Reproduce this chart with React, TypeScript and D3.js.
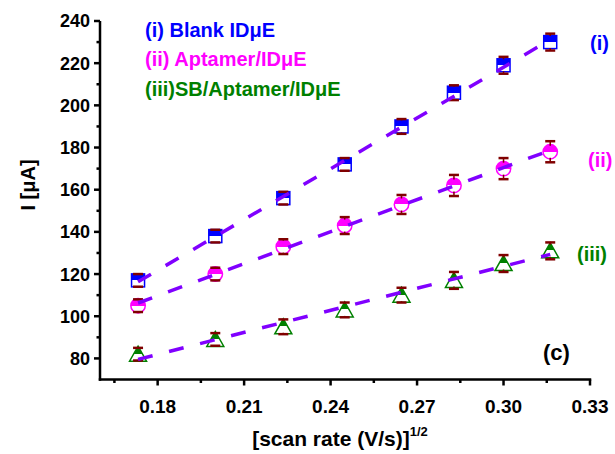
import React from "react";
import * as d3 from "d3";

const xVals = [0.1732, 0.2, 0.2236, 0.2449, 0.2646, 0.2828, 0.3, 0.3162];
const blank = [117, 138, 156, 172, 190, 206, 219, 230];
const blankErr = [3, 3, 3, 3, 3.5, 3.5, 4, 4];
const aptamer = [105, 120, 133, 143, 153, 162, 170, 178];
const aptamerErr = [3, 3, 3.5, 4, 4.5, 5, 5, 5];
const sb = [82, 89, 95, 103, 110, 117, 125, 131];
const sbErr = [3, 3, 3.5, 3.5, 3.5, 4, 4, 4];
const xTicks = [0.18, 0.21, 0.24, 0.27, 0.3, 0.33];
const yTicks = [80, 100, 120, 140, 160, 180, 200, 220, 240];

const W = 615, H = 454;
const FONT = "Liberation Sans, Arial, sans-serif";

function fit(xs: number[], ys: number[]) {
  const mx = d3.mean(xs)!, my = d3.mean(ys)!;
  let num = 0, den = 0;
  xs.forEach((x, i) => { num += (x - mx) * (ys[i] - my); den += (x - mx) ** 2; });
  const b = num / den;
  return { a: my - b * mx, b };
}

export default function App() {
  const x = d3.scaleLinear().domain([0.16, 0.33]).range([100, 590]);
  const y = d3.scaleLinear().domain([70, 240]).range([379.5, 21]);
  const x0 = 100, yB = 379.5;
  const series = [
    { vals: blank, err: blankErr, color: "#0000ff", shape: "square", id: "s" },
    { vals: aptamer, err: aptamerErr, color: "#ff00ff", shape: "circle", id: "c" },
    { vals: sb, err: sbErr, color: "#008000", shape: "triangle", id: "t" },
  ];
  const minorX = d3.range(0.165, 0.33, 0.03);
  const minorY = d3.range(90, 240, 20);

  return (
    <svg width={W} height={H} style={{ position: "absolute", left: 0, top: 0, background: "#fff" }} fontFamily={FONT}>
      <defs>
        {series.map((s) => (
          <linearGradient key={s.id} id={"g" + s.id} x1="0" y1="0" x2="0" y2="1">
            <stop offset="0.5" stopColor={s.color} />
            <stop offset="0.5" stopColor="#fff" />
          </linearGradient>
        ))}
      </defs>
      {/* axes */}
      <line x1={x0} x2={x0} y1={y(240)} y2={yB + 1.25} stroke="#000" strokeWidth={2.5} />
      <line x1={x0 - 1.25} x2={x(0.33) + 1.25} y1={yB} y2={yB} stroke="#000" strokeWidth={2.5} />
      {yTicks.map((t) => (
        <g key={t}>
          <line x1={x0 - 6} x2={x0} y1={y(t)} y2={y(t)} stroke="#000" strokeWidth={2.5} />
          <text x={x0 - 10} y={y(t)} dy="0.36em" textAnchor="end" fontSize={18} fontWeight="bold">{t}</text>
        </g>
      ))}
      {minorY.map((t) => (
        <line key={t} x1={x0 - 3.5} x2={x0} y1={y(t)} y2={y(t)} stroke="#000" strokeWidth={2.5} />
      ))}
      {xTicks.map((t) => (
        <g key={t}>
          <line x1={x(t)} x2={x(t)} y1={yB} y2={yB + 6} stroke="#000" strokeWidth={2.5} />
          <text x={x(t)} y={413} textAnchor="middle" fontSize={19} fontWeight="bold">{t.toFixed(2)}</text>
        </g>
      ))}
      {minorX.map((t) => (
        <line key={t} x1={x(t)} x2={x(t)} y1={yB} y2={yB + 3.5} stroke="#000" strokeWidth={2.5} />
      ))}
      {/* markers */}
      {series.map((s) => (
        <g key={s.id}>
          {s.vals.map((v, i) => {
            const cx = x(xVals[i]), cy = y(v);
            if (s.shape === "square")
              return <rect key={i} x={cx - 6.5} y={cy - 6.5} width={13} height={13} fill={`url(#g${s.id})`} stroke={s.color} strokeWidth={1.5} />;
            if (s.shape === "circle")
              return <circle key={i} cx={cx} cy={cy} r={7.2} fill={`url(#g${s.id})`} stroke={s.color} strokeWidth={1.5} />;
            return <path key={i} d={`M${cx},${cy - 8}L${cx + 8.5},${cy + 7}L${cx - 8.5},${cy + 7}Z`} fill={`url(#g${s.id})`} stroke={s.color} strokeWidth={1.5} />;
          })}
          {s.vals.map((v, i) => {
            const cx = x(xVals[i]);
            const yt = y(v + s.err[i]), yb = y(v - s.err[i]);
            return (
              <g key={"e" + i} stroke="#800000" strokeWidth={2.5}>
                <line x1={cx - 5} x2={cx + 5} y1={yt} y2={yt} />
                <line x1={cx - 5} x2={cx + 5} y1={yb} y2={yb} />
                <line x1={cx} x2={cx} y1={yt} y2={y(v) - 6} strokeWidth={1.5} />
                <line x1={cx} x2={cx} y1={yb} y2={y(v) + 6} strokeWidth={1.5} />
              </g>
            );
          })}
        </g>
      ))}
      {/* fit lines */}
      {series.map((s) => {
        const f = fit(xVals, s.vals);
        const xa = xVals[0], xb = xVals[xVals.length - 1];
        return (
          <line key={"f" + s.id} x1={x(xa)} y1={y(f.a + f.b * xa)} x2={x(xb)} y2={y(f.a + f.b * xb)}
            stroke="#8000ff" strokeWidth={3.5} strokeDasharray="15,17" />
        );
      })}
      {/* legend */}
      <g fontSize={20} fontWeight="bold">
        <text x={145} y={37} fill="#0000ff">(i) Blank IDμE</text>
        <text x={145} y={66} fill="#ff00ff">(ii) Aptamer/IDμE</text>
        <text x={145} y={96} fill="#008000">(iii)SB/Aptamer/IDμE</text>
        <text x={590} y={50} fill="#0000ff">(i)</text>
        <text x={588} y={167} fill="#ff00ff">(ii)</text>
        <text x={577} y={261} fill="#008000">(iii)</text>
        <text x={543} y={360} fill="#000" fontSize={22}>(c)</text>
      </g>
      {/* axis titles */}
      <text transform="translate(35,185) rotate(-90)" textAnchor="middle" fontSize={20} fontWeight="bold">I [μA]</text>
      <text x={340} y={446} textAnchor="middle" fontSize={21} fontWeight="bold">
        [scan rate (V/s)]<tspan fontSize={13} dy={-10}>1/2</tspan>
      </text>
    </svg>
  );
}
